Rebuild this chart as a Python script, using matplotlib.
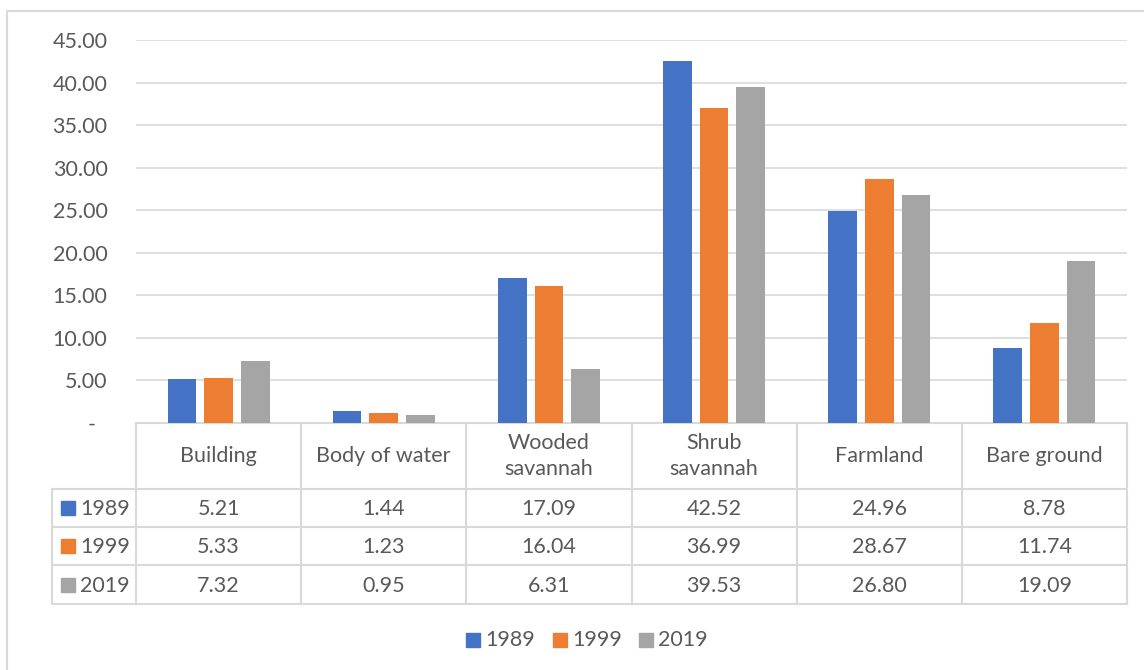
import matplotlib.pyplot as plt
from matplotlib.patches import Rectangle

# Land cover share (%) by class and year
categories = ["Building", "Body of water", "Wooded\nsavannah", "Shrub\nsavannah", "Farmland", "Bare ground"]
years = ["1989", "1999", "2019"]
v1989 = [5.21, 1.44, 17.09, 42.52, 24.96, 8.78]
v1999 = [5.33, 1.23, 16.04, 36.99, 28.67, 11.74]
v2019 = [7.32, 0.95, 6.31, 39.53, 26.80, 19.09]
series = [v1989, v1999, v2019]
colors = ["#4472C4", "#ED7D31", "#A5A5A5"]
yticks = [0, 5, 10, 15, 20, 25, 30, 35, 40, 45]

plt.rcParams['font.family'] = ['Lato', 'DejaVu Sans']
txt = "#595959"
grid = "#D9D9D9"
fs = 15.5

W, H = 1144, 670
fig = plt.figure(figsize=(W / 100, H / 100), dpi=100)

# overlay axes in pixel coordinates for frame, table and legend
bg = fig.add_axes([0, 0, 1, 1])
bg.set_xlim(0, W)
bg.set_ylim(H, 0)
bg.axis("off")

# outer chart frame
bg.plot([7, 7, W + 5], [H + 5, 11, 11], color=grid, lw=1.5)

# bar plot area
L, R, T, B = 136, 1127, 40, 423
ax = fig.add_axes([L / W, (H - B) / H, (R - L) / W, (B - T) / H])
n = len(categories)
bw, step = 0.173, 0.222
for i, vals in enumerate(series):
    xs = [c + (i - 1) * step for c in range(n)]
    ax.bar(xs, vals, width=bw, color=colors[i], zorder=3)
ax.set_xlim(-0.5, n - 0.5)
ax.set_ylim(0, 45)
ax.set_yticks(yticks)
ax.set_yticklabels(["-" if t == 0 else f"{t:.2f}" for t in yticks])
ax.tick_params(axis="y", length=0, pad=20.5, labelsize=fs, labelcolor=txt)
ax.set_xticks([])
for s in ax.spines.values():
    s.set_visible(False)
ax.grid(axis="y", color=grid, lw=1.2, zorder=0)
ax.patch.set_alpha(0)
for lbl in ax.get_yticklabels():
    if lbl.get_text() == "-":
        lbl.set_x(-0.012)

# data table under the bars
col_w = (R - L) / n
head_b = 489
rows_y = [489, 527, 565, 604]
tl = dict(color=grid, lw=1.5, zorder=5)
bg.plot([L, R], [B, B], **tl)
bg.plot([52, R], [head_b, head_b], **tl)
for y in rows_y[1:]:
    bg.plot([52, R], [y, y], **tl)
for j in range(n + 1):
    x = L + j * col_w
    bg.plot([x, x], [B, rows_y[-1]], **tl)
bg.plot([52, 52], [head_b, rows_y[-1]], **tl)

for j, cat in enumerate(categories):
    cx = L + (j + 0.5) * col_w
    bg.text(cx, (B + head_b) / 2, cat, ha="center", va="center",
            fontsize=fs, color=txt, linespacing=1.4)
    for i, vals in enumerate(series):
        cy = (rows_y[i] + rows_y[i + 1]) / 2 + 1
        bg.text(cx, cy, f"{vals[j]:.2f}", ha="center", va="center",
                fontsize=fs, color=txt)

for i, yr in enumerate(years):
    cy = (rows_y[i] + rows_y[i + 1]) / 2
    bg.add_patch(Rectangle((61, cy - 7), 14, 14, color=colors[i], zorder=6))
    bg.text(80, cy + 1, yr, ha="left", va="center", fontsize=fs, color=txt)

# legend
leg_x = [466, 553, 639]
for i, yr in enumerate(years):
    bg.add_patch(Rectangle((leg_x[i], 633), 14, 14, color=colors[i]))
    bg.text(leg_x[i] + 19, 640, yr, ha="left", va="center", fontsize=fs, color=txt)

fig.savefig("out.png", dpi=100)
